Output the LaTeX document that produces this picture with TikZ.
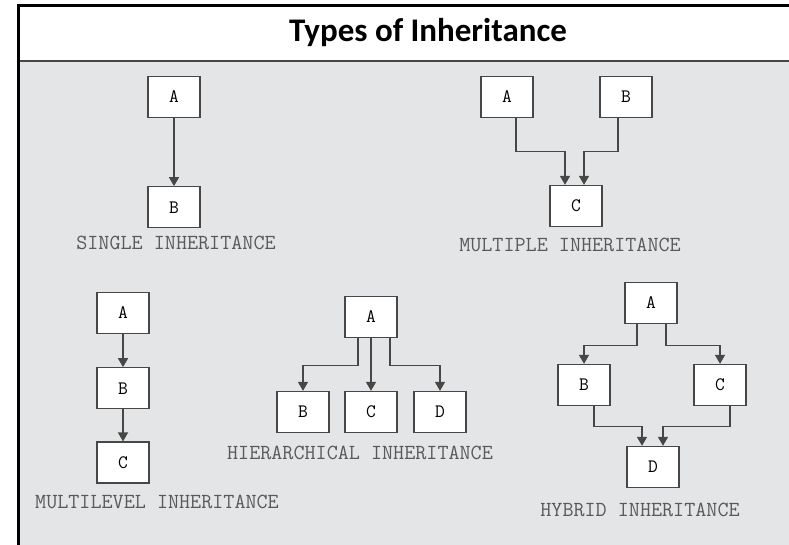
\documentclass[tikz,border=0pt]{standalone}
\usepackage{fontspec}
\newfontfamily\titlefont{Carlito}
\usetikzlibrary{positioning,arrows.meta}
\definecolor{panel}{HTML}{E3E5E7}
\definecolor{edge}{HTML}{474747}
\definecolor{caption}{HTML}{595959}

\begin{document}
\begin{tikzpicture}[x=1pt, y=-1pt,
  node distance=33pt,
  cls/.style={draw=edge, line width=1.3pt, fill=white, minimum width=52pt,
              minimum height=41pt, inner sep=0pt, font=\ttfamily\fontsize{19}{19}\selectfont},
  kind/.style={font=\ttfamily\fontsize{21.5}{21.5}\selectfont, text=caption, inner sep=0pt},
  arr/.style={-{Triangle[length=9pt, width=10pt]}, line width=1.4pt, draw=edge}]
\useasboundingbox (0,0) rectangle (789,545);
\fill[white] (0,0) rectangle (789,545);
\fill[panel] (18,61) rectangle (789,545);
\draw[line width=1.5pt, edge] (18,61) -- (789,61);
\draw[line width=3pt] (18,545) -- (18,6) -- (789,6);
\node[font=\titlefont\bfseries\fontsize{33}{33}\selectfont] (title) at (428,33) {Types of Inheritance};
% single
\node[cls] (sA) at (174,97) {A};
\node[cls, below=68pt of sA] (sB) {B};
\draw[arr] (sA) -- (sB);
\node[kind] (sL) at (176,243) {SINGLE INHERITANCE};
% multiple
\node[cls] (mA) at (507,97) {A};
\node[cls] (mB) at (626,97) {B};
\node[cls] (mC) at (576,206) {C};
\draw[arr] ([xshift=9pt]mA.south) -- ++(0,33.5) -| ([xshift=-11pt]mC.north);
\draw[arr] ([xshift=-8pt]mB.south) -- ++(0,33.5) -| ([xshift=8pt]mC.north);
\node[kind] (mL) at (570,245) {MULTIPLE INHERITANCE};
% multilevel
\node[cls] (lA) at (123,313) {A};
\node[cls, below=of lA] (lB) {B};
\node[cls, below=32pt of lB] (lC) {C};
\draw[arr] (lA) -- (lB); \draw[arr] (lB) -- (lC);
\node[kind] (lL) at (157,502) {MULTILEVEL INHERITANCE};
% hierarchical
\node[cls] (hA) at (371,317) {A};
\node[cls] (hB) at (303,412) {B};
\node[cls] (hC) at (371,412) {C};
\node[cls] (hD) at (440,412) {D};
\draw[arr] ([xshift=-13pt]hA.south) -- ++(0,27.5) -| (hB.north);
\draw[arr] (hA) -- (hC);
\draw[arr] ([xshift=19pt]hA.south) -- ++(0,27.5) -| (hD.north);
\node[kind] (hL) at (360,453) {HIERARCHICAL INHERITANCE};
% hybrid
\node[cls] (yA) at (651,303) {A};
\node[cls] (yB) at (584,385) {B};
\node[cls] (yC) at (720,385) {C};
\node[cls] (yD) at (653,467) {D};
\draw[arr] ([xshift=-14pt]yA.south) -- ++(0,21.5) -| (yB.north);
\draw[arr] ([xshift=15pt]yA.south) -- ++(0,21.5) -| (yC.north);
\draw[arr] ([xshift=10pt]yB.south) -- ++(0,20.5) -| ([xshift=-11pt]yD.north);
\draw[arr] ([xshift=10pt]yC.south) -- ++(0,20.5) -| ([xshift=10pt]yD.north);
\node[kind] (yL) at (640,510) {HYBRID INHERITANCE};
\end{tikzpicture}
\end{document}
